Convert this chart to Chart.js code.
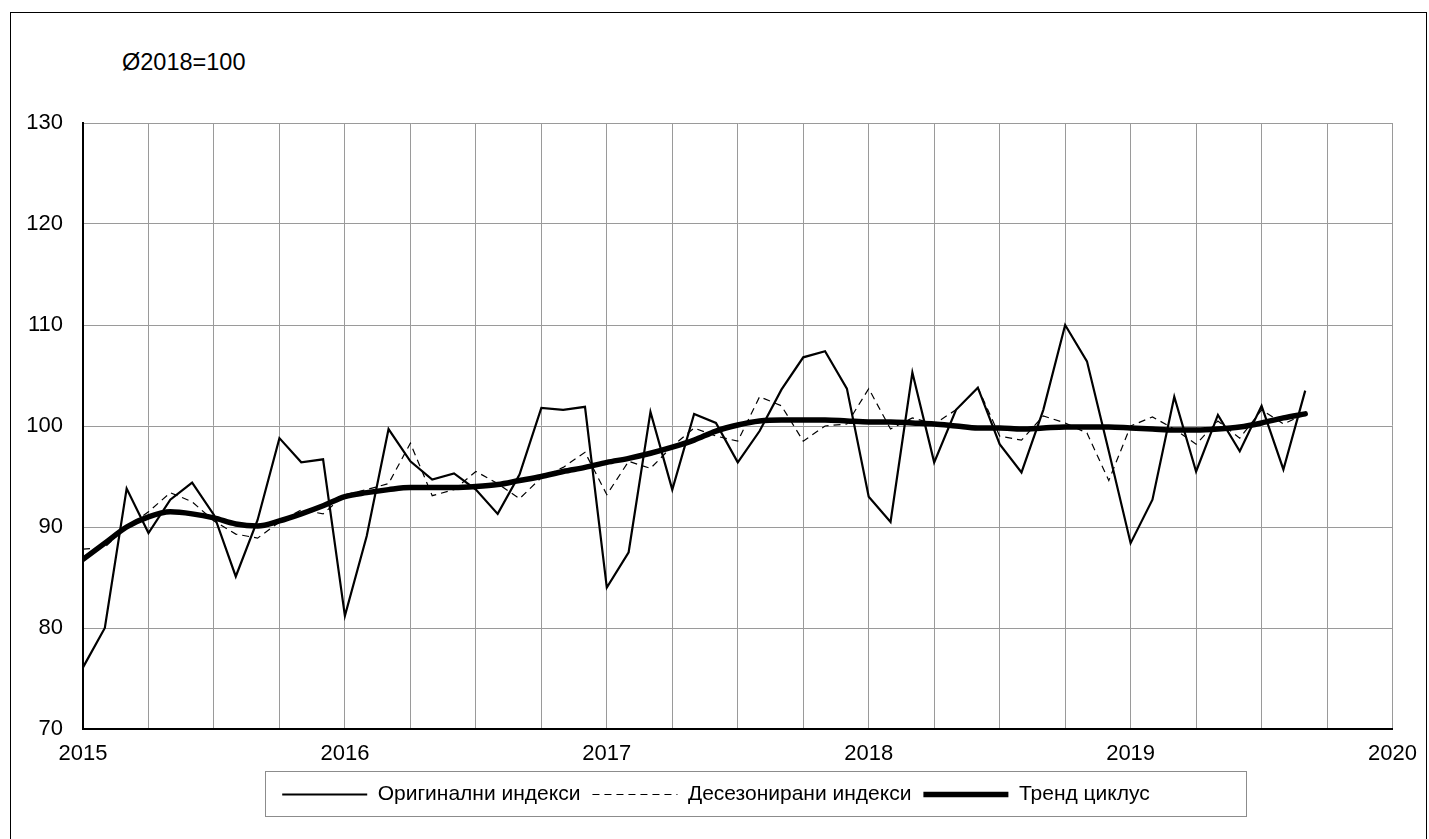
<!DOCTYPE html>
<html>
<head>
<meta charset="utf-8">
<script src="https://cdn.jsdelivr.net/npm/chart.js@4.4.0/dist/chart.umd.min.js"></script>
<style>
html,body{margin:0;padding:0;background:#fff;}
#wrap{position:relative;width:1429px;height:839px;overflow:hidden;background:#fff;}
#frame{position:absolute;left:10px;top:12px;width:1417px;height:900px;border:1px solid #000;box-sizing:border-box;}
#note{position:absolute;left:122px;top:48px;font-family:'Liberation Sans',Arial,sans-serif;font-size:23.5px;color:#000;line-height:28px;}
#c{position:absolute;left:0;top:0;}
</style>
</head>
<body>
<div id="wrap">
  <div id="frame"></div>
  <div id="note">Ø2018=100</div>
  <canvas id="c" width="1429" height="839"></canvas>
</div>
<script>
// ---- data (monthly, Jan 2015 - Sep 2019) ----
const startYear = 2015;
const seriesNames = ['Оригинални индекси', 'Десезонирани индекси', 'Тренд циклус'];
const original = [
  76.1, 80.0, 93.8, 89.4, 92.7, 94.4, 91.2, 85.1, 90.7, 98.8, 96.4, 96.7,
  81.2, 89.1, 99.7, 96.5, 94.7, 95.3, 93.7, 91.3, 95.2, 101.8, 101.6, 101.9,
  84.0, 87.5, 101.4, 93.7, 101.2, 100.3, 96.4, 99.5, 103.6, 106.8, 107.4, 103.7,
  93.0, 90.5, 105.3, 96.4, 101.6, 103.8, 98.2, 95.4, 101.6, 110.0, 106.4, 97.5,
  88.4, 92.7, 102.9, 95.5, 101.1, 97.5, 102.0, 95.7, 103.5
];
const deseasonalized = [
  87.8, 88.0, 90.0, 91.5, 93.4, 92.5, 90.6, 89.3, 88.9, 90.5, 91.7, 91.3,
  93.2, 93.7, 94.3, 98.3, 93.1, 93.7, 95.5, 94.3, 92.8, 94.9, 95.9, 97.4,
  93.2, 96.5, 95.8, 98.0, 99.8, 99.0, 98.5, 102.9, 102.0, 98.5, 100.0, 100.2,
  103.7, 99.7, 100.8, 100.2, 101.6, 103.8, 99.0, 98.6, 101.0, 100.3, 99.3, 94.6,
  100.0, 100.9, 99.7, 98.2, 100.5, 98.8, 101.6, 100.2, 101.2
];
const trend = [
  86.8, 88.4, 90.0, 91.0, 91.5, 91.3, 90.9, 90.3, 90.1, 90.6, 91.3, 92.1,
  93.0, 93.4, 93.7, 93.9, 93.9, 93.9, 94.0, 94.2, 94.6, 95.0, 95.5, 95.9,
  96.4, 96.8, 97.3, 97.9, 98.6, 99.5, 100.1, 100.5, 100.6, 100.6, 100.6, 100.5,
  100.4, 100.4, 100.3, 100.2, 100.0, 99.8, 99.8, 99.7, 99.8, 99.9, 99.9, 99.9,
  99.8, 99.7, 99.6, 99.6, 99.7, 99.9, 100.3, 100.8, 101.2
];
const xYearLabels = [2015, 2016, 2017, 2018, 2019, 2020];
const yTickValues = [70, 80, 90, 100, 110, 120, 130];

// ---- build ----
const toPoints = arr => arr.map((v, i) => ({ x: startYear + i / 12, y: v }));
const FONT = "'Liberation Sans', Arial, sans-serif";

const legendFrame = {
  id: 'legendFrame',
  afterDraw(chart) {
    const hb = chart.legend && chart.legend.legendHitBoxes;
    if (!hb || !hb.length) return;
    const ctx = chart.ctx;
    const last = hb[hb.length - 1];
    const l = Math.round(hb[0].left - 17);
    const r = Math.round(last.left + last.width + 96);
    const t = Math.round(hb[0].top - 13);
    const b = Math.round(hb[0].top + hb[0].height + 11);
    ctx.save();
    ctx.strokeStyle = '#8c8c8c';
    ctx.lineWidth = 1;
    ctx.setLineDash([]);
    ctx.strokeRect(l + 0.5, t + 0.5, r - l, b - t);
    ctx.restore();
  }
};

new Chart(document.getElementById('c').getContext('2d'), {
  type: 'line',
  data: {
    datasets: [
      { label: seriesNames[0], data: toPoints(original), borderColor: '#000', backgroundColor: '#000',
        borderWidth: 2.2, pointRadius: 0, tension: 0, fill: false, order: 3 },
      { label: seriesNames[1], data: toPoints(deseasonalized), borderColor: '#000', backgroundColor: '#000',
        borderWidth: 1.2, borderDash: [7, 5], pointRadius: 0, tension: 0, fill: false, order: 2 },
      { label: seriesNames[2], data: toPoints(trend), borderColor: '#000', backgroundColor: '#000',
        borderWidth: 5.5, pointRadius: 0, tension: 0.4, cubicInterpolationMode: 'monotone',
        borderCapStyle: 'round', borderJoinStyle: 'round', fill: false, order: 1 }
    ]
  },
  options: {
    responsive: false,
    animation: false,
    devicePixelRatio: 1,
    events: [],
    layout: { padding: { left: 3, right: 0, top: 123, bottom: 24 } },
    scales: {
      x: {
        type: 'linear',
        min: xYearLabels[0],
        max: xYearLabels[xYearLabels.length - 1],
        afterFit: s => { s.height = 43; },
        ticks: {
          stepSize: 0.25,
          autoSkip: false,
          maxRotation: 0,
          padding: 12,
          color: '#000',
          font: { family: FONT, size: 22 },
          callback: v => (xYearLabels.includes(v) ? String(v) : '')
        },
        grid: { color: '#9a9a9a', lineWidth: 1, drawTicks: false },
        border: { color: '#000', width: 2 }
      },
      y: {
        min: yTickValues[0],
        max: yTickValues[yTickValues.length - 1],
        afterFit: s => { s.width = 80; },
        ticks: {
          stepSize: 10,
          padding: 20,
          color: '#000',
          font: { family: FONT, size: 22 },
          callback: v => (yTickValues.includes(v) ? String(v) : '')
        },
        grid: { color: '#9a9a9a', lineWidth: 1, drawTicks: false },
        border: { color: '#000', width: 2 }
      },
      yRightSpace: {
        position: 'right',
        display: true,
        afterFit: s => { s.width = 31; },
        ticks: { display: false },
        grid: { display: false, drawTicks: false },
        border: { display: false }
      }
    },
    plugins: {
      legend: {
        position: 'bottom',
        labels: {
          usePointStyle: true,
          pointStyle: 'line',
          pointStyleWidth: 85,
          boxHeight: 20,
          padding: 12,
          color: '#000',
          font: { family: FONT, size: 21 },
          sort: (a, b) => a.datasetIndex - b.datasetIndex,
          generateLabels: chart => Chart.defaults.plugins.legend.labels.generateLabels(chart).map(item => {
            const ds = chart.data.datasets[item.datasetIndex];
            item.lineDash = ds.borderDash || [];
            item.lineWidth = ds.datasetIndex === 2 ? ds.borderWidth : ds.borderWidth;
            item.strokeStyle = ds.borderColor;
            return item;
          })
        }
      },
      tooltip: { enabled: false },
      title: { display: false }
    }
  },
  plugins: [legendFrame]
});
</script>
</body>
</html>
